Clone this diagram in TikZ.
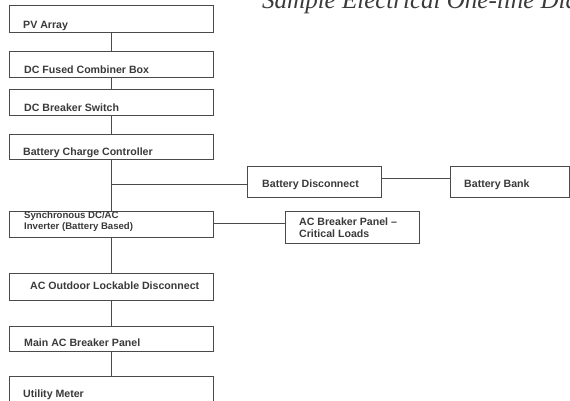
\documentclass[tikz,border=0pt]{standalone}
\usepackage{fontspec}
\setmainfont{Liberation Sans}
\newfontfamily\titlefont{Liberation Serif}
\definecolor{ink}{HTML}{3A3A3A}
\definecolor{wire}{HTML}{4A4A4A}
\tikzset{
  box/.style={draw=wire, line width=0.8pt, rectangle, inner sep=0pt, anchor=north west, minimum width=204pt, minimum height=26pt},
  lbl/.style={anchor=base west, inner sep=0pt, text=ink, font=\fontsize{10.6}{12}\selectfont\bfseries},
  slbl/.style={anchor=base west, inner sep=0pt, text=ink, font=\fontsize{9.6}{11}\selectfont\bfseries},
  wire/.style={draw=wire, line width=0.8pt}
}
\begin{document}
\begin{tikzpicture}[x=1pt,y=-1pt]
\useasboundingbox (0,0) rectangle (570,400);
\clip (0,0) rectangle (570,400);
\fill[white] (0,0) rectangle (570,400);
% title (cut off at the top and right edge, as in the reference)
\node[anchor=base west, inner sep=0pt, text=ink, font=\titlefont\itshape\fontsize{25}{28}\selectfont] (title) at (262,8) {Sample Electrical One-line Diagram};
% boxes
\node[box, minimum height=27pt] (pv) at (9,5) {};
\node[box] (fcb) at (9,51) {};
\node[box] (dcb) at (9,89) {};
\node[box, minimum height=25pt] (bcc) at (9,134) {};
\node[box, minimum width=134pt, minimum height=31pt] (bd) at (247,166) {};
\node[box, minimum width=119pt, minimum height=31pt] (bb) at (450,166) {};
\node[box] (inv) at (9,211) {};
\node[box, minimum width=134pt, minimum height=32pt] (acp) at (285,211) {};
\node[box, minimum height=27pt] (acd) at (9,273) {};
\node[box, minimum height=25pt] (main) at (9,326) {};
\node[box, minimum height=40pt] (um) at (9,376) {};
% labels
\node[lbl] (pvt) at (23,28) {PV Array};
\node[lbl] (fcbt) at (24,73) {DC Fused Combiner Box};
\node[lbl] (dcbt) at (24,111) {DC Breaker Switch};
\node[lbl] (bcct) at (23,155) {Battery Charge Controller};
\node[lbl] (bdt) at (262,187) {Battery Disconnect};
\node[lbl] (bbt) at (464,187) {Battery Bank};
\node[slbl] (invt1) at (24,218.5) {Synchronous DC/AC};
\node[slbl] (invt2) at (24,229.5) {Inverter (Battery Based)};
\node[lbl] (acpt1) at (299,225) {AC Breaker Panel –};
\node[lbl] (acpt2) at (299,237) {Critical Loads};
\node[lbl] (acdt) at (30,289) {AC Outdoor Lockable Disconnect};
\node[lbl] (maint) at (24,346) {Main AC Breaker Panel};
\node[lbl] (umt) at (23,397) {Utility Meter};
% connectors
\coordinate (j) at (111,184);
\draw[wire] (pv.south) -- (fcb.north);
\draw[wire] (fcb.south) -- (dcb.north);
\draw[wire] (dcb.south) -- (bcc.north);
\draw[wire] (bcc.south) -- (inv.north);
\draw[wire] (j) -- (j -| bd.west);
\draw[wire] ([yshift=3.5pt]bd.east) -- ([yshift=3.5pt]bb.west);
\draw[wire] ([yshift=1pt]inv.east) -- ([yshift=1pt]inv.east -| acp.west);
\draw[wire] (inv.south) -- (acd.north);
\draw[wire] (acd.south) -- (main.north);
\draw[wire] (main.south) -- (um.north);
\end{tikzpicture}
\end{document}
